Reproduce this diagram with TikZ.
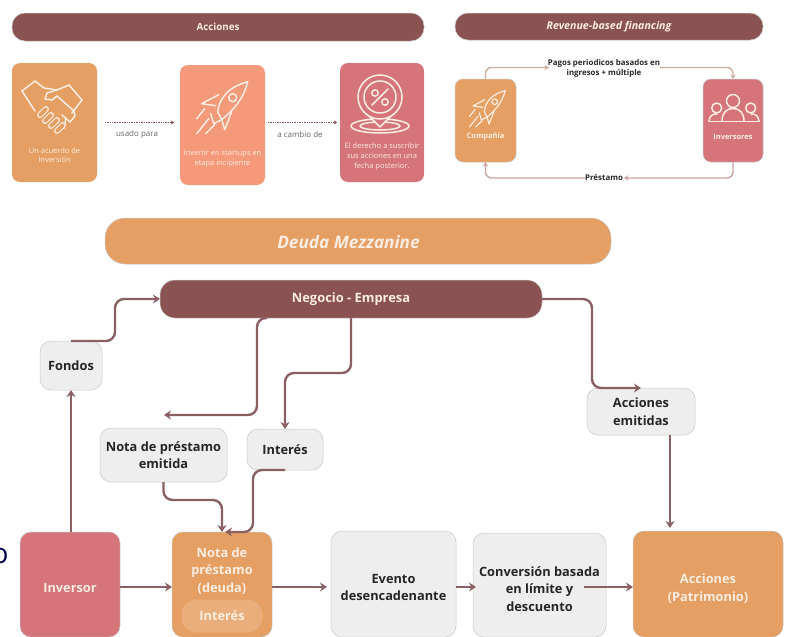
\documentclass[tikz,border=0pt]{standalone}
\usepackage{fontspec}
\setmainfont{Open Sans}
\usetikzlibrary{arrows.meta,calc}
\definecolor{wine}{HTML}{8B5252}
\definecolor{peach}{HTML}{E59F63}
\definecolor{salmon}{HTML}{F4997A}
\definecolor{rose}{HTML}{D5757A}
\definecolor{soft}{HTML}{EEEEEE}
\definecolor{cream}{HTML}{FBEDE2}
\definecolor{linkcol}{HTML}{8A6063}
\definecolor{tan-link}{HTML}{CDAE9C}
\definecolor{rose-link}{HTML}{CBA3A3}

\tikzset{
  rocket-icon/.pic={
    \draw (-4,5) .. controls (-2,-10) and (8,-20) .. (26,-25) .. controls (22,-8) and (12,3) .. (0,13) -- cycle;
    \draw (-3,-12) -- (-20,-3) -- (-6,-1);
    \draw (10,5) -- (3,23) -- (0,13);
    \draw (-11,7) -- (-8,17) -- (0,13);
    \draw (-17,2) -- (-25,12);
    \draw (-13,12) -- (-25,27);
    \draw (-7,18) -- (-16,27);
    \draw (11,-9) circle (4);
  }
}

\begin{document}
\begin{tikzpicture}[
    x=1pt, y=-1pt,
    base/.style={inner sep=0pt, outer sep=0pt, align=center, draw=black!22, line width=0.5pt},
    bar/.style={base, fill=wine, text=cream, rounded corners=13pt},
    card/.style={base, draw=none, rounded corners=8pt},
    flow-box/.style={base, rounded corners=11pt, font=\fontsize{12.8}{17.5}\selectfont\bfseries},
    gray-box/.style={flow-box, fill=soft, text=black!85},
    col-box/.style={flow-box, text=cream},
    flow-txt/.style={inner sep=0pt, align=center, font=\fontsize{12.8}{17.5}\selectfont\bfseries},
    card-txt/.style={inner sep=0pt, align=center, text=cream, font=\fontsize{7.5}{9.6}\selectfont},
    small-lbl/.style={inner sep=0pt, align=center, text=black!60, font=\fontsize{8}{10}\selectfont},
    small-bold/.style={inner sep=0pt, align=center, font=\fontsize{7.9}{10.8}\selectfont\bfseries},
    icon/.style={draw=cream, line width=1.5pt, line join=round, line cap=round},
    link/.style={draw=linkcol, line width=2.4pt, rounded corners=9pt, -{Stealth[length=7pt,width=9pt]}},
    dot-link/.style={draw=wine, densely dotted, line width=0.7pt, -{Stealth[length=3pt,width=4pt]}},
    thin-link/.style={line width=1.4pt, rounded corners=6pt, -{Stealth[length=4.5pt,width=5.5pt]}},
  ]
\useasboundingbox (0,0) rectangle (785,637);

% Cut off letter at the left edge
\node[inner sep=0pt, text=blue!30!black] (cut-letter) at (0,556) {\fontsize{28}{30}\selectfont o};

% Upper left: Acciones
\node[bar, minimum width=412, minimum height=28, font=\fontsize{9.8}{11}\selectfont\bfseries] (acc-bar) at (218,27) {Acciones};
\node[card, fill=peach, minimum width=85, minimum height=119] (acuerdo) at (54.5,122.5) {};
\node[card, fill=salmon, minimum width=85, minimum height=120] (startup) at (222.5,125) {};
\node[card, fill=rose, minimum width=84, minimum height=119] (derecho) at (382,122.5) {};
\node[card-txt] (acuerdo-txt) at (54.5,155) {Un acuerdo de\\Inversión};
\node[card-txt] (startup-txt) at (222.5,158.5) {Invertir en startups en\\etapa incipiente};
\node[card-txt] (derecho-txt) at (382,156.5) {El derecho a suscribir\\sus acciones en una\\fecha posterior.};
\node[small-lbl] (usado) at (137,134) {usado para};
\node[small-lbl] (cambio) at (300,134) {a cambio de};
\draw[dot-link] ([xshift=8pt]acuerdo.east) -- ([xshift=-6pt]acuerdo.east -| startup.west);
\draw[dot-link] ([xshift=3pt]acuerdo.east -| startup.east) -- ([xshift=-3pt]acuerdo.east -| derecho.west);

% Handshake icon
\begin{scope}[shift={(52,108)}, icon]
  \draw (-30,-17) -- (-17,-27) -- (-8,-20) -- (5,-18) -- (17,-23) -- (30,-8) -- (20,5);
  \draw (-30,-17) -- (-17,3);
  \draw (5,-18) -- (-5,-15) -- (-7,-9) -- (0,-8) -- (5,-12) -- (22,3) -- (23,8) -- (18,14) -- (10,7);
  \draw (14,10) -- (12,20) -- (6,24);
  \foreach \fx/\fy in {-9/4,-4/10,2/15,8/20} {
    \draw[double=peach, double distance=3.6pt, line width=1.2pt] (\fx-3,\fy+3) -- (\fx+3,\fy-3);
  }
\end{scope}

% Rocket icon
\pic[icon] (rocket-a) at (221.7,106.7) {rocket-icon};

% Pin icon
\begin{scope}[shift={(380,97)}, icon]
  \draw (0,29) ellipse (29 and 7);
  \draw (0,29) ellipse (20 and 4);
  \draw[fill=rose] (-13,17) -- (0,30) -- (13,17) -- cycle;
  \draw[fill=rose, draw=rose] (0,0) circle (21);
  \draw (0,0) circle (22);
  \draw (0,0) circle (16);
  \draw (-8,8) -- (8,-8);
  \draw (-5,-4) circle (3.2);
  \draw (5,5) circle (3.2);
\end{scope}

% Upper right: Revenue-based financing
\node[bar, minimum width=308, minimum height=27, font=\fontsize{10.6}{12}\selectfont\bfseries\itshape] (rev-bar) at (609,26.5) {Revenue-based financing};
\node[card, fill=peach, minimum width=61, minimum height=83, draw=black!22] (compania) at (485.5,120.5) {};
\node[card, fill=rose, minimum width=60, minimum height=83, draw=black!22] (inversores) at (733,120.5) {};
\node[small-bold, text=cream, font=\fontsize{7.5}{9}\selectfont\bfseries] (compania-txt) at (485.5,137) {Compañía};
\node[small-bold, text=cream, font=\fontsize{7.5}{9}\selectfont\bfseries] (inversores-txt) at (733,137) {Inversores};
\node[small-bold, text=black!85] (pagos) at (604,68.5) {Pagos periodicos basados en\\ingresos + múltiple};
\node[small-bold, text=black!85] (prestamo-txt) at (604,178) {Préstamo};
\coordinate (pagos-in) at (549,67.5);
\coordinate (pagos-out) at (660,67.5);
\coordinate (prest-in) at (624,178);
\coordinate (prest-out) at (586,178);
\draw[thin-link, draw=tan-link] (compania.north) |- (pagos-in);
\draw[thin-link, draw=tan-link] (pagos-out) -| (inversores.north);
\draw[thin-link, draw=rose-link] (inversores.south) |- (prest-in);
\draw[thin-link, draw=rose-link] (prest-out) -| (compania.south);

% Small rocket
\pic[icon, line width=1.2pt, scale=0.7] (rocket-b) at (487,108) {rocket-icon};

% People icon
\begin{scope}[icon]
  \draw (733,101) circle (6.5);
  \draw (716.7,108) circle (5);
  \draw (750.7,108) circle (5);
  \draw (709,121.5) -- (759,121.5);
  \draw (709,121.5) .. controls (709,116) and (713,113.5) .. (717,114);
  \draw (759,121.5) .. controls (759,116) and (755,113.5) .. (751,114);
  \draw (722,121.5) .. controls (722,112) and (727,108.5) .. (733,108.5) .. controls (739,108.5) and (744,112) .. (744,121.5);
\end{scope}

% Deuda Mezzanine
\node[base, fill=peach, rounded corners=20pt, minimum width=506, minimum height=46] (deuda-bar) at (358,241) {};
\node[inner sep=0pt, text=cream, font=\fontsize{17.2}{20}\selectfont\bfseries\itshape] (deuda-txt) at (348.5,242) {Deuda Mezzanine};
\node[bar, rounded corners=15pt, minimum width=382, minimum height=38, font=\fontsize{12.9}{14}\selectfont\bfseries] (negocio) at (351,299) {Negocio - Empresa};

% Small gray labels
\node[gray-box, minimum width=62, minimum height=49] (fondos) at (71,365.5) {Fondos};
\node[gray-box, minimum width=127, minimum height=54] (nota-em) at (163.5,455) {Nota de préstamo\\emitida};
\node[gray-box, minimum width=76, minimum height=41] (interes) at (285,449.5) {Interés};
\node[gray-box, minimum width=108, minimum height=47] (acc-em) at (641,411.5) {Acciones\\emitidas};

% Bottom row
\coordinate (row-y) at (0,587);
\node[col-box, fill=rose, minimum width=100, minimum height=105] (inversor) at (70,584.5) {};
\node[col-box, fill=peach, minimum width=100, minimum height=105] (prestamo) at (222,584.5) {};
\node[gray-box, minimum width=125, minimum height=106] (evento) at (393.5,584) {};
\node[gray-box, minimum width=133, minimum height=104] (conversion) at (539.5,585) {};
\node[col-box, fill=peach, minimum width=150, minimum height=106] (patrimonio) at (708,584) {};

\node[flow-txt, text=cream] (inversor-txt) at (70,588) {Inversor};
\node[flow-txt, text=cream] (prestamo-txt2) at (222,571) {Nota de\\préstamo\\(deuda)};
\node[inner sep=0pt, rounded corners=15pt, fill=cream, fill opacity=0.2, minimum width=81, minimum height=33] (interes-pill) at (222,616) {};
\node[flow-txt, text=cream] (interes-lbl) at (222,616) {Interés};
\node[flow-txt, text=black!85] (evento-txt) at (393.5,587.5) {Evento\\desencadenante};
\node[flow-txt, text=black!85] (conversion-txt) at (539.5,589) {Conversión basada\\en límite y\\descuento};
\node[flow-txt, text=cream] (patrimonio-txt) at (708,588.5) {Acciones\\(Patrimonio)};

% Connectors
\coordinate (neg-out) at (267,318);
\coordinate (nota-free) at (164,415);
\coordinate (int-in) at (253,532);
\coordinate (pat-in) at (670,528);
\coordinate (conv-out) at (584,587);
\draw[link] (inversor.north -| fondos.south) -- (fondos.south);
\draw[link] (fondos.north) -- ++(44,0) |- (negocio.west);
\draw[link] (neg-out) -| (257,415) -- (nota-free);
\draw[link] (negocio.south) -- ++(0,55) -| (interes.north);
\draw[link] (negocio.east) -- ++(50,0) |- (acc-em.north);
\draw[link] (pat-in |- acc-em.south) -- (pat-in);
\draw[link] (nota-em.south) -- ++(0,18) -| (prestamo.north);
\draw[link] (interes.south) -| (int-in) -- ([xshift=3pt]prestamo.north);
\draw[link] (inversor.east |- row-y) -- (prestamo.west |- row-y);
\draw[link] (prestamo.east |- row-y) -- ([xshift=-4pt]evento.west |- row-y);
\draw[link] (evento.east |- row-y) -- ([xshift=3pt]conversion.west |- row-y);
\draw[link] (conv-out) -- (conv-out -| patrimonio.west);
\end{tikzpicture}
\end{document}
